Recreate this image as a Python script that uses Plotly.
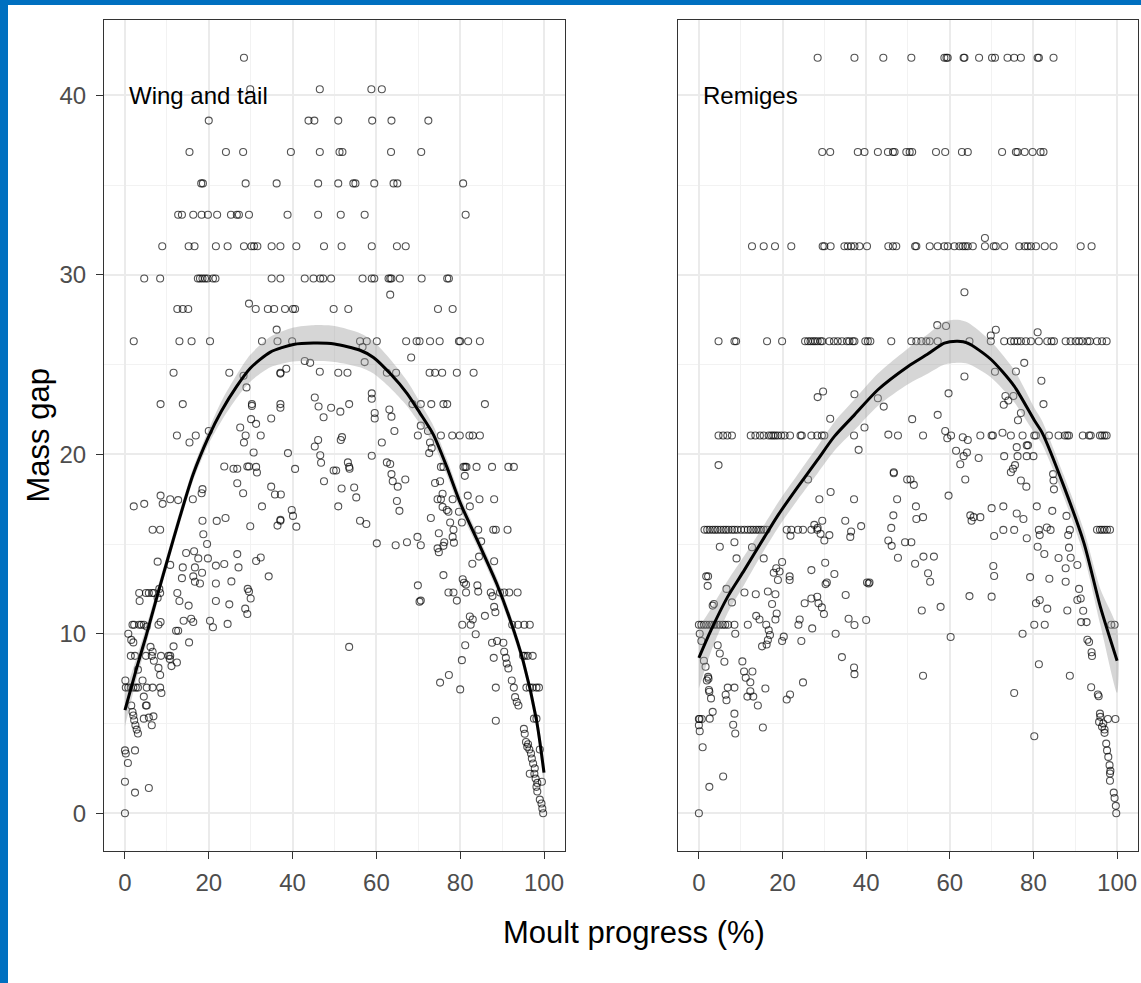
import plotly.graph_objects as go

# ---------------- data: Wing and tail panel ----------------
wing_points = [
    (28.4,42.1),
    (29.9,40.35),(46.5,40.35),(58.8,40.35),(61.3,40.35),
    (20.0,38.6),(43.8,38.6),(45.2,38.6),(50.9,38.6),(59.0,38.6),(63.6,38.6),(72.4,38.6),
    (15.4,36.85),(24.1,36.85),(28.2,36.85),(39.6,36.85),(46.5,36.85),(51.2,36.85),(51.9,36.85),(63.5,36.85),(70.7,36.85),
    (18.2,35.1),(18.6,35.1),(28.8,35.1),(36.2,35.1),(46.1,35.1),(50.9,35.1),(54.5,35.1),(55.0,35.1),(59.5,35.1),(64.1,35.1),(65.0,35.1),(80.7,35.1),
    (12.7,33.35),(13.6,33.35),(16.3,33.35),(18.3,33.35),(19.8,33.35),(22.0,33.35),(25.3,33.35),(26.7,33.35),(27.2,33.35),(29.6,33.35),(38.8,33.35),(46.1,33.35),(51.5,33.35),(57.2,33.35),(81.3,33.35),
    (8.9,31.6),(15.2,31.6),(16.6,31.6),(21.7,31.6),(24.5,31.6),(28.4,31.6),(30.2,31.6),(30.8,31.6),(31.6,31.6),(35.0,31.6),(37.1,31.6),(40.9,31.6),(47.5,31.6),(51.7,31.6),(58.9,31.6),(64.9,31.6),(67.0,31.6),
    (4.6,29.8),(8.4,29.8),(17.4,29.8),(17.9,29.8),(18.5,29.8),(19.1,29.8),(19.7,29.8),(21.0,29.8),(21.6,29.8),(35.0,29.8),(37.1,29.8),(42.9,29.8),(45.0,29.8),(46.6,29.8),(47.3,29.8),(49.2,29.8),(56.7,29.8),(58.9,29.8),(59.5,29.8),(62.9,29.8),(63.3,29.8),(63.6,29.8),(65.6,29.8),(70.8,29.8),(76.9,29.8),(77.3,29.8),(63.3,28.9),
    (12.5,28.1),(13.8,28.1),(15.1,28.1),(29.6,28.4),(31.2,28.1),(34.1,28.1),(35.6,28.1),(38.2,28.1),(40.1,28.1),(40.6,28.1),(49.8,28.1),(53.3,28.1),(74.7,28.1),(78.2,28.1),
    (2.1,26.3),(13.0,26.3),(15.9,26.3),(20.3,26.3),(32.7,26.3),(36.4,26.3),(39.9,26.3),(36.2,26.95),(56.1,26.3),(57.7,26.3),(60.1,26.3),(67.1,26.3),(69.6,26.3),(70.3,26.3),(72.8,26.3),(75.1,26.3),(79.7,26.3),(80.0,26.3),(81.9,26.3),(84.7,26.3),(56.7,25.98),(57.2,25.14),(68.3,25.4),
    (11.6,24.55),(24.9,24.55),(37.1,24.55),(37.1,24.5),(38.5,24.77),(42.9,25.2),(44.2,25.1),(46.5,24.6),(28.3,24.38),(29.0,23.73),(50.9,24.55),(53.1,24.55),(62.5,24.55),(64.7,24.55),(72.7,24.55),(74.0,24.55),(75.7,24.55),(79.2,24.55),(83.2,24.55),
    (8.5,22.8),(13.8,22.8),(30.3,22.8),(30.3,22.7),(37.1,22.8),(37.1,22.6),(45.3,23.17),(46.2,22.67),(47.4,22.07),(49.2,22.6),(34.9,22.0),(30.1,21.96),(31.3,21.7),(27.5,21.5),(20.0,21.3),(51.4,22.38),(53.5,22.8),(58.9,23.4),(58.9,23.1),(59.6,22.3),(59.6,22.0),(63.1,22.5),(63.6,22.1),(68.6,22.8),(70.6,22.8),(73.1,22.8),(76.0,22.8),(76.9,22.8),(85.9,22.8),(70.6,21.6),(64.3,21.3),
    (12.4,21.05),(16.9,21.05),(15.4,20.66),(28.8,21.05),(28.4,20.66),(32.4,21.05),(30.7,20.1),(38.9,20.07),(40.6,19.19),(46.1,20.8),(45.3,20.44),(46.6,19.95),(46.8,19.53),(47.5,18.5),(49.8,19.1),
    (23.7,19.32),(25.9,19.2),(26.8,19.2),(29.2,19.32),(29.6,19.32),(31.3,19.3),(31.5,18.99),(26.8,18.39),(28.2,17.83),(34.9,18.2),(35.8,17.76),(37.2,17.76),(32.7,17.1),
    (39.8,16.9),(40.1,16.57),(37.1,16.35),(37.1,16.3),(36.4,16.03),(40.9,15.97),(29.9,15.99),(24.0,16.45),(21.9,16.29),(18.5,16.3),(18.7,15.55),(19.6,15.0),
    (18.5,18.06),(18.3,17.83),(16.2,17.5),(12.7,17.45),(10.8,17.5),(9.0,17.24),(8.5,17.7),(2.1,17.1),(4.6,17.24),(6.6,15.8),(8.4,15.8),
    (7.8,14.02),(10.8,13.84),(14.6,14.5),(16.5,14.6),(17.5,14.2),(13.8,13.7),(16.7,13.7),(16.3,13.2),(18.4,13.4),(16.7,12.9),(17.9,12.8),(19.8,14.2),(13.6,13.1),
    (21.7,13.8),(23.7,13.89),(26.8,14.44),(27.1,13.7),(31.3,14.06),(32.4,14.25),(34.3,13.2),(21.7,12.8),(25.4,12.92),(29.3,12.5),(29.6,12.35),(30.0,11.97),(21.7,11.83),(24.9,11.64),
    (12.5,12.27),(13.0,11.83),(15.2,11.57),(28.7,11.4),(29.2,11.1),(14.0,10.73),(15.8,10.84),(16.3,10.66),(20.3,10.73),(21.0,10.36),(24.5,10.55),(12.2,10.17),(12.7,10.17),(15.3,9.52),(8.0,10.5),(8.5,10.66),
    (3.4,12.27),(5.0,12.27),(5.7,12.27),(6.5,12.27),(6.9,12.27),(8.4,12.27),(3.5,11.83),(7.8,12.0),(8.2,12.5),
    (1.8,10.5),(2.2,10.5),(3.4,10.5),(3.9,10.5),(4.5,10.5),(5.2,10.4),(0.8,10.0),(1.5,9.66),(2.0,9.52),
    (1.4,8.77),(2.4,8.77),(5.0,8.77),(6.4,8.77),(8.6,8.77),(10.4,8.77),(10.8,8.77),(6.1,9.27),(6.6,9.0),(11.6,9.3),(10.7,8.6),(11.1,8.2),(12.4,8.4),(6.9,8.5),(8.0,8.1),(8.4,7.7),(3.1,8.0),
    (0.1,7.4),(0.2,7.0),(0.8,7.0),(1.4,7.0),(2.0,7.0),(2.6,7.0),(3.1,7.0),(5.2,7.0),(6.6,7.0),(8.4,7.0),(4.2,7.4),(8.7,6.7),(4.5,6.5),(5.0,6.0),(5.2,6.0),
    (1.5,6.0),(1.8,5.64),(2.0,5.45),(2.2,5.18),(2.5,4.9),(2.8,4.66),(3.1,4.44),(4.5,5.27),(5.7,5.33),(6.4,4.9),(6.8,5.4),
    (0.0,3.5),(0.2,3.33),(2.4,3.5),(0.7,2.8),(0.0,1.75),(2.4,1.15),(5.7,1.41),(0.0,0.0),
    (51.8,20.96),(51.5,20.8),(61.3,20.66),(69.9,21.05),(72.8,20.66),(73.2,20.35),(72.6,20.07),
    (75.4,21.05),(78.1,21.05),(79.9,21.05),(82.2,21.05),(83.0,21.05),(84.7,21.05),(72.3,21.3),
    (58.9,19.92),(53.2,19.55),(53.5,19.3),(53.6,19.2),(62.5,19.55),(63.3,19.46),(63.6,18.9),(63.9,18.5),(65.1,18.2),(66.9,18.6),(50.4,19.1),
    (51.7,18.1),(54.7,18.15),(55.2,17.6),(50.9,17.1),(64.9,17.4),(65.5,16.85),(56.1,16.3),(57.6,16.12),(60.1,15.04),(64.6,14.93),(67.3,15.1),(69.8,15.4),(70.6,14.93),(73.0,16.45),
    (75.4,19.3),(76.0,19.3),(80.8,19.3),(81.2,19.3),(81.5,19.3),(83.9,19.3),(87.6,19.3),(91.5,19.3),(92.8,19.3),
    (81.1,18.8),(74.0,18.4),(75.2,18.5),(75.8,17.8),(74.6,17.5),(75.4,17.5),(75.8,17.07),(76.8,16.9),(77.2,16.8),
    (78.2,17.5),(81.8,17.7),(82.3,17.1),(84.6,17.5),(88.1,17.5),(79.7,16.8),(80.4,16.2),(77.6,16.2),(78.4,15.8),
    (84.3,15.8),(87.9,15.8),(88.5,15.8),(91.3,15.8),
    (74.9,15.6),(76.2,15.1),(76.0,14.9),(74.6,14.76),(74.9,14.55),(78.2,15.4),(78.5,15.08),
    (85.0,15.15),(84.5,14.3),(82.9,13.9),(88.1,14.04),(76.0,13.27),(69.9,12.7),(70.3,11.79),(70.6,11.85),
    (80.6,13.04),(80.9,12.84),(81.4,12.75),(84.1,12.7),
    (77.2,12.3),(78.4,12.3),(81.4,12.3),(84.3,12.35),(87.3,12.3),(87.7,12.1),(89.5,12.3),(90.5,12.3),(91.7,12.3),(93.7,12.3),
    (79.2,11.85),(88.1,11.5),(88.4,11.2),(85.9,11.0),(82.3,10.96),(83.0,10.8),(80.5,10.5),(82.5,10.5),
    (92.4,10.5),(93.8,10.5),(95.3,10.5),(96.6,10.5),
    (83.7,9.97),(81.2,9.36),(80.4,8.53),(53.5,9.27),
    (87.6,9.5),(88.8,9.6),(90.3,9.5),(90.5,9.0),(90.9,8.66),(91.1,8.34),(91.5,8.07),(88.0,8.66),
    (95.0,8.77),(95.4,8.77),(96.1,8.77),(97.3,8.77),
    (77.3,7.7),(75.2,7.28),(80.0,6.9),(88.5,7.0),
    (92.3,7.4),(92.8,7.0),(93.1,6.47),(93.5,6.2),(93.9,6.0),
    (95.8,7.0),(96.6,7.0),(97.3,7.0),(98.2,7.0),(98.8,7.0),
    (88.5,5.15),(97.6,5.27),(98.2,5.27),
    (95.2,4.7),(95.4,4.43),(95.7,3.97),(96.0,3.7),(96.5,3.55),(96.9,3.33),(97.1,3.05),(97.4,2.77),(97.8,2.5),(97.7,2.2),(98.0,1.93),(98.4,1.69),(98.2,1.47),(98.4,1.21),(99.0,0.76),(99.4,0.54),(99.6,0.26),(99.8,0.0),
    (99.0,3.55),(99.5,1.75),(96.2,3.84),(96.6,2.2),
]

wing_fit_x  = [0, 2.8, 5, 7.8, 10, 13.1, 16.3, 20, 23, 26.7, 29.9, 34.7, 40.2, 45, 50, 56.1, 59.3, 63.3, 67.3, 70.4, 73.6, 76.8, 80, 84.7, 88.7, 91.9, 95, 98.2, 100]
wing_fit_y  = [5.75, 8.1, 9.84, 12.2, 14.0, 16.5, 18.9, 21.0, 22.4, 23.8, 24.8, 25.7, 26.12, 26.2, 26.15, 25.8, 25.4, 24.5, 23.4, 22.3, 21.1, 19.3, 17.3, 14.9, 12.8, 10.8, 8.5, 5.2, 2.26]
wing_fit_se = [0.9, 0.6, 0.5, 0.4, 0.35, 0.35, 0.35, 0.4, 0.55, 0.65, 0.75, 0.85, 0.95, 1.0, 1.0, 0.95, 0.9, 0.8, 0.7, 0.6, 0.5, 0.45, 0.4, 0.35, 0.35, 0.35, 0.35, 0.45, 0.6]

# ---------------- data: Remiges panel ----------------
remiges_points = [
    (28.4,42.1),(37.2,42.1),(44.1,42.1),(50.8,42.1),(58.7,42.1),(59.2,42.1),(59.5,42.1),(63.3,42.1),(63.5,42.1),(67.0,42.1),(70.1,42.1),(70.8,42.1),(73.8,42.1),(75.4,42.1),(77.0,42.1),(81.0,42.1),(81.3,42.1),(84.8,42.1),
    (29.5,36.85),(31.4,36.85),(38.0,36.85),(39.6,36.85),(42.8,36.85),(45.2,36.85),(46.4,36.85),(46.8,36.85),(49.6,36.85),(50.4,36.85),(51.0,36.85),(56.7,36.85),(58.9,36.85),(62.9,36.85),(64.3,36.85),(72.5,36.85),(75.8,36.85),(76.2,36.85),(77.9,36.85),(79.8,36.85),(81.7,36.85),(82.4,36.85),
    (12.7,31.6),(15.5,31.6),(18.2,31.6),(22.1,31.6),(29.6,31.6),(30.0,31.6),(31.5,31.6),(34.8,31.6),(35.6,31.6),(36.4,31.6),(37.2,31.6),(38.4,31.6),(40.2,31.6),(45.3,31.6),(46.4,31.6),(47.2,31.6),(51.7,31.6),(52.0,31.6),(55.2,31.6),(57.1,31.6),(58.7,31.6),(59.5,31.6),(61.1,31.6),(62.3,31.6),(63.1,31.6),(63.7,31.6),(64.3,31.6),(65.5,31.6),(68.4,31.6),(70.5,31.6),(71.0,31.6),(73.0,31.6),(76.6,31.6),(77.9,31.6),(78.6,31.6),(79.4,31.6),(80.6,31.6),(82.7,31.6),(84.8,31.6),(91.3,31.6),(93.9,31.6),(68.4,32.06),
    (4.7,26.3),(8.5,26.3),(8.9,26.3),(16.3,26.3),(19.9,26.3),(25.4,26.3),(26.1,26.3),(26.7,26.3),(27.3,26.3),(27.8,26.3),(28.4,26.3),(29.1,26.3),(29.5,26.3),(31.2,26.3),(32.3,26.3),(33.2,26.3),(34.2,26.3),(35.4,26.3),(36.0,26.3),(36.8,26.3),(37.2,26.3),(39.8,26.3),(40.4,26.3),(41.0,26.3),(46.0,26.3),(50.8,26.3),(52.0,26.3),(53.2,26.3),(54.4,26.3),(55.2,26.3),(57.1,26.3),(64.7,26.3),(69.8,26.3),(73.0,26.3),(74.6,26.3),(75.4,26.3),(76.2,26.3),(77.0,26.3),(78.2,26.3),(79.4,26.3),(81.3,26.3),(83.3,26.3),(84.3,26.3),(84.9,26.3),(87.7,26.3),(88.9,26.3),(90.1,26.3),(90.9,26.3),(91.7,26.3),(92.9,26.3),(93.5,26.3),(95.2,26.3),(96.4,26.3),(97.5,26.3),
    (63.5,29.03),(57.0,27.2),(59.1,27.15),(71.0,26.94),(69.8,26.62),(81.0,26.8),(63.5,24.34),(70.8,24.6),(77.8,25.1),(75.8,24.62),(81.9,24.1),(59.7,23.4),(73.3,23.25),(74.0,23.0),(72.9,22.76),(75.2,23.25),(77.0,22.3),(76.3,21.9),(82.4,22.8),(57.1,22.2),(51.0,21.96),(29.7,23.5),(28.4,23.19),(37.2,23.35),(42.8,23.13),(44.2,22.66),(31.4,21.98),(39.6,21.5),
    (4.7,21.05),(5.8,21.05),(6.8,21.05),(7.9,21.05),(12.4,21.05),(13.5,21.05),(14.6,21.05),(15.5,21.05),(16.7,21.05),(17.3,21.05),(17.8,21.05),(18.3,21.05),(18.9,21.05),(19.7,21.05),(20.5,21.05),(21.8,21.05),(24.3,21.05),(24.6,21.05),(26.9,21.05),(28.3,21.05),(29.4,21.05),(30.0,21.05),(37.1,21.05),(45.3,21.1),(47.6,21.05),(53.6,21.05),(58.9,21.3),(59.4,20.9),(60.3,21.05),(63.1,20.95),(64.3,20.8),(67.3,21.05),(70.0,21.05),(70.3,21.05),(72.6,21.2),(74.6,21.05),(77.4,21.05),(80.2,21.05),(80.6,21.05),(83.7,21.05),(86.0,21.05),(87.5,21.05),(88.1,21.05),(88.5,21.05),(91.8,21.05),(93.3,21.05),(93.7,21.05),(95.9,21.05),(96.4,21.05),(97.0,21.05),(97.5,21.05),
    (38.2,20.25),(4.7,19.4),(26.1,18.6),(46.6,19.0),(46.6,18.95),(49.8,18.6),(31.5,17.9),(28.8,17.5),(37.1,17.5),(47.4,17.5),(46.5,16.6),
    (29.5,16.3),(27.6,16.07),(28.4,15.9),(29.1,15.57),(30.0,15.2),(31.2,15.5),(35.0,16.3),(38.8,16.0),(36.4,15.7),(36.2,15.4),(46.0,15.9),(45.3,15.2),(46.1,14.9),(47.6,14.24),(49.3,15.1),
    (1.35,15.8),(2.0,15.8),(2.6,15.8),(3.3,15.8),(3.9,15.8),(4.5,15.8),(5.2,15.8),(5.9,15.8),(6.5,15.8),(7.1,15.8),(7.9,15.8),(8.5,15.8),(9.2,15.8),(10.1,15.8),(10.9,15.8),(11.7,15.8),(12.4,15.8),(13.0,15.8),(13.7,15.8),(14.3,15.8),(14.9,15.8),(15.5,15.8),(16.2,15.8),(21.0,15.8),(22.1,15.8),(23.7,15.8),(24.9,15.8),(26.9,15.8),(28.3,15.8),(21.9,15.46),
    (5.0,14.85),(8.5,15.1),(12.7,14.82),(9.0,14.2),(15.5,14.2),(19.9,14.0),(18.5,13.65),(19.3,13.47),(17.9,13.4),(18.9,13.0),(21.7,13.2),(21.7,13.0),(26.9,13.55),(30.2,13.96),(32.4,13.33),(30.3,12.77),(30.6,12.86),(35.1,12.16),(40.2,12.86),(40.6,12.8),(40.8,12.86),
    (1.75,13.2),(2.2,13.2),(2.1,12.67),(6.6,12.5),(10.9,12.3),(13.6,12.2),(16.5,12.36),(18.3,12.2),(3.3,11.57),(3.6,11.66),(7.9,11.75),(17.5,11.66),(18.6,11.13),(18.3,10.8),(13.7,11.0),(14.5,10.8),
    (16.1,10.5),(16.7,10.2),(17.0,9.93),(16.5,9.65),(16.2,9.4),(15.1,9.3),(20.3,9.84),(19.9,9.6),(23.8,10.5),(24.1,10.8),(24.5,9.6),
    (25.3,11.7),(26.9,11.97),(28.3,12.06),(28.6,11.7),(29.4,11.47),(29.9,11.1),(27.1,10.3),(32.7,10.0),(35.8,10.84),(37.2,10.49),(40.0,10.77),
    (0.0,10.5),(0.6,10.5),(1.2,10.5),(1.8,10.5),(2.5,10.5),(3.1,10.5),(3.7,10.5),(4.4,10.5),(5.0,10.5),(5.7,10.5),(6.3,10.5),(7.0,10.5),(8.5,10.5),(11.7,10.5),
    (0.2,10.0),(0.6,9.6),(8.7,10.0),(4.5,9.36),(5.0,8.9),(6.1,8.44),
    (1.2,8.5),(1.6,8.16),(2.2,7.6),(2.3,7.5),(1.9,7.4),(2.4,6.87),(2.5,6.77),(2.9,6.4),
    (10.4,8.46),(10.8,7.9),(11.2,7.55),(12.8,7.9),(12.3,7.3),(12.3,6.8),(11.6,6.5),(13.0,6.5),(14.1,6.0),(15.9,6.95),
    (6.9,7.0),(6.4,6.6),(6.6,6.3),(8.5,7.0),(3.3,5.65),(2.6,5.27),(8.5,5.55),(8.2,4.93),(8.7,4.44),(15.3,4.78),
    (21.0,6.34),(21.8,6.62),(24.9,7.29),(34.2,8.7),(37.1,8.12),(37.2,7.75),
    (0.0,5.25),(0.15,5.25),(0.7,5.25),(0.0,4.9),(0.2,4.57),(0.9,3.68),(5.8,2.05),(2.5,1.47),(0.0,0.0),
    (61.5,20.2),(64.1,20.1),(63.3,19.9),(62.5,19.45),(66.9,19.8),(63.7,18.6),(59.7,17.7),
    (73.0,19.9),(76.0,20.4),(76.2,19.9),(78.4,20.5),(78.7,20.5),(80.0,19.9),(78.4,19.9),(75.6,19.4),(75.1,19.2),(74.6,19.0),(77.0,18.54),(78.3,18.2),
    (50.6,18.6),(51.4,18.3),(51.9,17.1),(52.0,16.4),(53.6,16.5),(64.9,16.6),(65.2,16.3),(65.7,16.5),(67.3,16.5),(70.0,17.0),(72.8,17.1),(76.0,16.7),(77.6,16.4),(80.8,17.1),
    (84.5,16.85),(84.7,18.9),(84.8,18.54),(84.9,18.05),(87.9,16.57),
    (70.6,15.45),(72.8,15.79),(75.4,15.79),(78.4,15.32),(81.3,15.79),(81.5,15.5),(83.2,15.92),(84.1,15.79),(88.3,15.5),(88.7,15.79),
    (95.2,15.8),(95.9,15.8),(96.4,15.8),(97.0,15.8),(97.6,15.8),(98.3,15.8),
    (50.8,15.1),(51.7,13.9),(53.7,14.3),(56.2,14.3),(54.8,13.37),(55.3,12.9),(53.3,11.3),(57.8,11.5),(64.7,12.1),(70.0,12.07),(70.4,13.78),(70.6,13.22),(60.2,9.82),
    (81.0,14.85),(82.6,14.45),(86.0,14.22),(87.7,13.65),(88.9,14.24),(88.5,14.8),(90.5,13.83),(87.7,12.9),(83.8,13.07),(79.2,13.16),
    (90.9,12.5),(91.3,11.97),(90.5,11.88),(91.9,11.28),(91.4,10.65),(92.7,10.65),(88.1,11.3),(80.6,11.7),(81.5,11.88),(83.3,11.4),(80.2,10.5),(82.7,10.5),(77.4,10.0),
    (98.6,10.5),(99.4,10.5),(92.9,9.67),(93.3,9.54),(93.9,8.97),(94.0,8.76),
    (53.6,7.66),(75.4,6.7),(81.3,8.3),(88.7,7.66),(80.2,4.29),(93.8,7.02),(95.4,6.62),(95.6,6.52),
    (95.9,5.55),(96.0,5.37),(95.7,5.09),(96.7,5.0),(96.4,4.82),(97.0,4.67),(97.0,4.48),(97.8,5.25),(99.6,5.25),
    (97.4,3.88),(97.6,3.5),(97.9,3.14),(98.2,2.68),(98.4,2.36),(98.3,2.21),(98.3,1.81),(99.2,1.15),(99.4,0.85),(99.7,0.41),(99.8,0.0),
]

remiges_fit_x  = [0, 2.9, 6.9, 10.9, 15.7, 18.9, 23.7, 28.4, 32.4, 37.2, 42.8, 50, 54.8, 58.7, 61.9, 64.3, 69.8, 75.4, 80.2, 82.1, 87.3, 92.1, 96.0, 100]
remiges_fit_y  = [8.66, 10.2, 12.07, 13.56, 15.4, 16.6, 18.2, 19.7, 21.0, 22.2, 23.6, 24.9, 25.6, 26.2, 26.3, 26.2, 25.3, 23.8, 21.9, 21.2, 18.2, 15.04, 11.5, 8.5]
remiges_fit_se = [1.7, 1.2, 0.9, 0.8, 0.7, 0.7, 0.7, 0.75, 0.8, 0.85, 0.9, 1.0, 1.1, 1.2, 1.2, 1.15, 1.0, 0.9, 0.7, 0.65, 0.6, 0.7, 1.0, 1.8]

panel_labels = ["Wing and tail", "Remiges"]
x_ticks = [0, 20, 40, 60, 80, 100]
y_ticks = [0, 10, 20, 30, 40]

# ---------------- figure ----------------
fig = go.Figure()

point_style = dict(symbol="circle-open", size=7, color="rgba(0,0,0,0.68)",
                   line=dict(width=1.1, color="rgba(0,0,0,0.68)"))
band_color = "rgba(153,153,153,0.4)"

panels = [
    (wing_points, wing_fit_x, wing_fit_y, wing_fit_se, "x", "y"),
    (remiges_points, remiges_fit_x, remiges_fit_y, remiges_fit_se, "x2", "y2"),
]
for pts, fx, fy, fse, xa, ya in panels:
    px = [p[0] for p in pts]
    py = [p[1] for p in pts]
    fig.add_trace(go.Scatter(x=px, y=py, mode="markers", marker=point_style,
                             xaxis=xa, yaxis=ya, showlegend=False, hoverinfo="x+y"))
    upper = [a + b for a, b in zip(fy, fse)]
    lower = [a - b for a, b in zip(fy, fse)]
    fig.add_trace(go.Scatter(x=fx + fx[::-1], y=upper + lower[::-1], mode="lines",
                             fill="toself", fillcolor=band_color, line=dict(width=0, shape="spline", smoothing=0.7),
                             xaxis=xa, yaxis=ya, showlegend=False, hoverinfo="skip"))
    fig.add_trace(go.Scatter(x=fx, y=fy, mode="lines", line=dict(color="black", width=3, shape="spline", smoothing=0.7),
                             xaxis=xa, yaxis=ya, showlegend=False))

axis_common = dict(
    showline=True, mirror=True, linecolor="#333333", linewidth=1.2,
    showgrid=True, gridcolor="#EBEBEB", gridwidth=1.6, zeroline=False,
    ticks="outside", ticklen=7, tickwidth=1.3, tickcolor="#333333",
    tickfont=dict(family="Liberation Sans, Arial, sans-serif", size=24, color="#4D4D4D"),
)
minor_x = dict(dtick=10, showgrid=True, gridcolor="#F2F2F2", gridwidth=1, ticks="")
minor_y = dict(dtick=5, showgrid=True, gridcolor="#F2F2F2", gridwidth=1, ticks="")

xr = [-5, 105]
yr = [-2.105, 44.205]

fig.update_layout(
    width=1141, height=983,
    margin=dict(l=104, r=3, t=20, b=132, autoexpand=False),
    paper_bgcolor="white", plot_bgcolor="white",
    font=dict(family="Liberation Sans, Arial, sans-serif"),
    xaxis=dict(axis_common, domain=[0, 0.4458], range=xr, tickvals=x_ticks, minor=minor_x, ticklabelstandoff=3),
    xaxis2=dict(axis_common, domain=[0.5551, 1], range=xr, tickvals=x_ticks, minor=minor_x, anchor="y2", ticklabelstandoff=3),
    yaxis=dict(axis_common, domain=[0, 1], range=yr, tickvals=y_ticks, minor=minor_y, ticklabelstandoff=5),
    yaxis2=dict(axis_common, domain=[0, 1], range=yr, tickvals=y_ticks, minor=minor_y, anchor="x2",
                showticklabels=False, ticks=""),
)

annots = [
    dict(text=panel_labels[0], x=0.5, y=40, xref="x", yref="y", xanchor="left", yanchor="middle",
         showarrow=False, font=dict(size=24, color="black")),
    dict(text=panel_labels[1], x=0.5, y=40, xref="x2", yref="y2", xanchor="left", yanchor="middle",
         showarrow=False, font=dict(size=24, color="black")),
    dict(text="Mass gap", x=(38 - 104) / 1034, y=0.5, xref="paper", yref="paper", xanchor="center",
         yanchor="middle", textangle=-90, showarrow=False, font=dict(size=31, color="black")),
    dict(text="Moult progress (%)", x=(634 - 104) / 1034, y=-(933 - 851) / 831, xref="paper", yref="paper",
         xanchor="center", yanchor="middle", showarrow=False, font=dict(size=31, color="black")),
]
fig.update_layout(annotations=annots)

# blue frame on the left and top edges of the image
fig.update_layout(shapes=[
    dict(type="rect", xref="paper", yref="paper", x0=-104 / 1034, x1=(8 - 104) / 1034,
         y0=-132 / 831, y1=1 + 20 / 831, fillcolor="#0070C0", line=dict(width=0), layer="above"),
    dict(type="rect", xref="paper", yref="paper", x0=-104 / 1034, x1=(1141 - 104) / 1034,
         y0=1 + 15 / 831, y1=1 + 20 / 831, fillcolor="#0070C0", line=dict(width=0), layer="above"),
])

fig.write_html("out.html")
